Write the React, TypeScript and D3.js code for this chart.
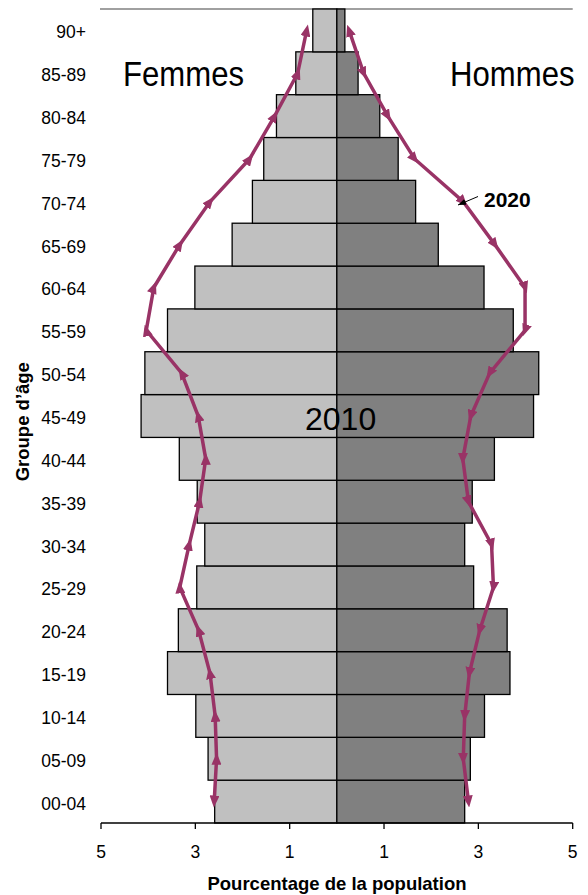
import React from "react";
import * as d3 from "d3";

const ages = ["00-04","05-09","10-14","15-19","20-24","25-29","30-34","35-39","40-44","45-49","50-54","55-59","60-64","65-69","70-74","75-79","80-84","85-89","90+"];
const women2010 = [2.59, 2.73, 2.99, 3.59, 3.36, 2.97, 2.80, 2.96, 3.34, 4.15, 4.07, 3.59, 3.01, 2.22, 1.79, 1.55, 1.28, 0.87, 0.51];
const men2010 = [2.71, 2.83, 3.13, 3.67, 3.61, 2.90, 2.71, 2.87, 3.34, 4.17, 4.28, 3.74, 3.12, 2.15, 1.67, 1.30, 0.91, 0.45, 0.17];
const women2020 = [2.60, 2.55, 2.58, 2.69, 2.93, 3.33, 3.13, 2.91, 2.78, 2.94, 3.29, 4.04, 3.88, 3.33, 2.69, 1.85, 1.32, 0.83, 0.64];
const men2020 = [2.79, 2.68, 2.71, 2.81, 3.03, 3.32, 3.28, 2.79, 2.67, 2.84, 3.24, 3.99, 3.99, 3.35, 2.68, 1.65, 1.08, 0.57, 0.26];
const xTicks = [-5, -3, -1, 1, 3, 5];

const FONT = "'Liberation Sans', Arial, sans-serif";
const LINE = "#993366";

export default function App() {
  const W = 588, H = 895;
  const x = d3.scaleLinear().domain([-5, 5]).range([101, 572.7]);
  const y = d3.scaleBand<string>().domain([...ages].reverse()).range([9, 823]).padding(0);
  const bw = y.bandwidth();
  const cy = (a: string) => (y(a) as number) + bw / 2;

  const line = d3.line<[number, number]>().x(d => d[0]).y(d => d[1]);
  const leftPts: [number, number][] = ages.map((a, i) => [x(-women2020[i]), cy(a)]);
  const rightPts: [number, number][] = ages.map((a, i) => [x(men2020[i]), cy(a)]).reverse() as [number, number][];

  return (
    <svg width={W} height={H} style={{ position: "absolute", left: 0, top: 0, background: "#fff" }} fontFamily={FONT}>
      <defs>
        <marker id="tri" viewBox="0 0 12 10" refX={6} refY={5} markerWidth={12} markerHeight={10}
          markerUnits="userSpaceOnUse" orient="auto-start-reverse">
          <path d="M0,0 L12,5 L0,10 Z" fill={LINE} />
        </marker>
        <marker id="blk" viewBox="0 0 8 6" refX={8} refY={3} markerWidth={8} markerHeight={6}
          markerUnits="userSpaceOnUse" orient="auto">
          <path d="M0,0 L8,3 L0,6 Z" fill="#000" />
        </marker>
      </defs>

      <line x1={100} x2={572.7} y1={9} y2={9} stroke="#808080" strokeWidth={1.5} />

      {ages.map((a, i) => (
        <rect key={"w" + a} x={x(-women2010[i])} y={y(a)} width={x(0) - x(-women2010[i])} height={bw}
          fill="#C0C0C0" stroke="#000" strokeWidth={1.3} />
      ))}
      {ages.map((a, i) => (
        <rect key={"m" + a} x={x(0)} y={y(a)} width={x(men2010[i]) - x(0)} height={bw}
          fill="#808080" stroke="#000" strokeWidth={1.3} />
      ))}

      <path d={line(leftPts) as string} fill="none" stroke={LINE} strokeWidth={3.5}
        markerStart="url(#tri)" markerMid="url(#tri)" markerEnd="url(#tri)" />
      <path d={line(rightPts) as string} fill="none" stroke={LINE} strokeWidth={3.5}
        markerStart="url(#tri)" markerMid="url(#tri)" markerEnd="url(#tri)" />

      <line x1={x(-5)} x2={x(5)} y1={823} y2={823} stroke="#000" strokeWidth={1.3} />
      {xTicks.map(t => (
        <g key={t}>
          <line x1={x(t)} x2={x(t)} y1={823} y2={829} stroke="#000" strokeWidth={1.3} />
          <text x={x(t)} y={858} textAnchor="middle" fontSize={17.5} fill="#000">{Math.abs(t)}</text>
        </g>
      ))}
      <text x={337} y={890} textAnchor="middle" fontSize={18.5} fontWeight="bold" fill="#000">Pourcentage de la population</text>

      {ages.map(a => (
        <text key={"l" + a} x={86} y={cy(a) + 8} textAnchor="end" fontSize={17.5} fill="#000">{a}</text>
      ))}
      <text transform={`translate(29,421.7) rotate(-90)`} textAnchor="middle" fontSize={18.5} fontWeight="bold" fill="#000">Groupe d’âge</text>

      <text transform="translate(123,86) scale(0.865,1)" x={0} y={0} fontSize={36} fill="#000">Femmes</text>
      <text transform="translate(450,86) scale(0.865,1)" x={0} y={0} fontSize={36} fill="#000">Hommes</text>
      <text x={305} y={430} fontSize={32} fill="#000">2010</text>
      <text x={484} y={206.5} fontSize={21} fontWeight="bold" fill="#000">2020</text>
      <line x1={478} y1={196.5} x2={458} y2={205} stroke="#000" strokeWidth={1} markerEnd="url(#blk)" />
    </svg>
  );
}
